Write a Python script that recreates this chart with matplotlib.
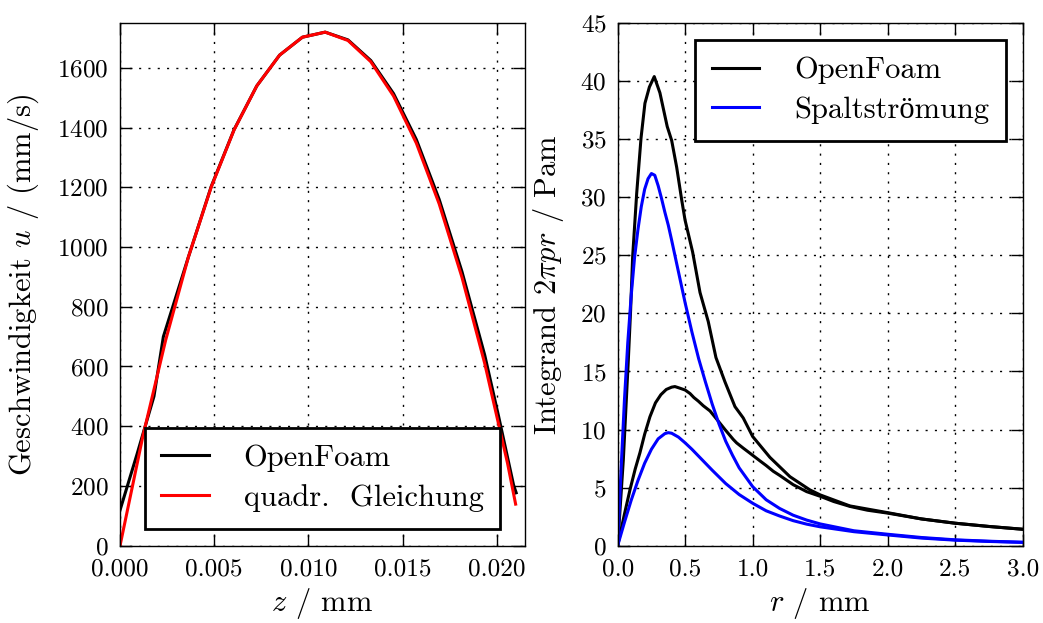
import matplotlib
matplotlib.use("Agg")
import matplotlib.pyplot as plt

plt.rcParams.update({
    "font.family": ["cmr10", "Liberation Serif"],
    "mathtext.fontset": "cm",
    "axes.formatter.use_mathtext": True,
    "axes.unicode_minus": False,
})

# Velocity profile across the gap
z_openfoam = [0.0, 0.0009, 0.0018, 0.0023, 0.00363, 0.00484, 0.00605, 0.00726,
              0.00847, 0.00968, 0.01089, 0.0121, 0.01331, 0.01452, 0.01573,
              0.01694, 0.01815, 0.01936, 0.0201, 0.02089, 0.02103]
u_openfoam = [119, 306, 500, 700, 967, 1203, 1393, 1540, 1643, 1703, 1720,
              1694, 1625, 1514, 1360, 1160, 918, 638, 432, 203, 177]

z_quadr = [0.0, 0.00121, 0.00242, 0.00363, 0.00484, 0.00605, 0.00726, 0.00847,
           0.00968, 0.01089, 0.0121, 0.01331, 0.01452, 0.01573, 0.01694,
           0.01815, 0.01936, 0.02057, 0.021]
u_quadr = [0, 366, 688, 967, 1201, 1392, 1540, 1643, 1703, 1720, 1692, 1621,
           1506, 1348, 1145, 899, 610, 276, 139]

# Integrand over the radius (OpenFoam, two cases)
r_of_hi = [0.0, 0.042, 0.079, 0.096, 0.111, 0.141, 0.173, 0.202, 0.235, 0.271,
           0.313, 0.367, 0.4, 0.437, 0.474, 0.499, 0.555, 0.61, 0.671, 0.728,
           0.795, 0.869, 0.93, 1.0, 1.128, 1.276, 1.424, 1.5, 1.72, 2.0, 2.25,
           2.5, 2.75, 3.0]
v_of_hi = [0.0, 7.4, 16.0, 20.3, 24.9, 30.35, 35.1, 38.1, 39.5, 40.4, 39.0,
           36.1, 34.9, 32.6, 29.8, 28.05, 25.3, 21.8, 19.3, 16.2, 14.1, 11.97,
           11.0, 9.4, 7.6, 5.94, 4.8, 4.37, 3.42, 2.84, 2.3, 1.93, 1.65, 1.41]

r_of_lo = [0.0, 0.05, 0.091, 0.13, 0.165, 0.2, 0.239, 0.28, 0.32, 0.36, 0.4,
           0.424, 0.461, 0.5, 0.536, 0.565, 0.597, 0.634, 0.684, 0.733, 0.795,
           0.856, 0.881, 0.93, 0.98, 1.054, 1.1, 1.153, 1.2, 1.3, 1.4, 1.5,
           1.6, 1.72, 1.85, 2.0, 2.25, 2.5, 2.75, 3.0]
v_of_lo = [0.0, 2.7, 4.8, 6.6, 8.0, 9.6, 11.1, 12.3, 13.0, 13.45, 13.65, 13.7,
           13.56, 13.4, 13.1, 12.75, 12.45, 12.05, 11.6, 10.9, 10.0, 9.15, 8.85,
           8.4, 7.96, 7.3, 6.9, 6.4, 6.05, 5.25, 4.65, 4.25, 3.8, 3.38, 3.05,
           2.8, 2.3, 1.93, 1.65, 1.41]

# Integrand over the radius (gap-flow model, two cases)
r_sp_hi = [0.0, 0.025, 0.05, 0.075, 0.1, 0.125, 0.15, 0.175, 0.2, 0.225, 0.25,
           0.275, 0.3, 0.325, 0.35, 0.375, 0.4, 0.45, 0.5, 0.55, 0.6, 0.65,
           0.7, 0.75, 0.8, 0.85, 0.9, 1.0, 1.1, 1.2, 1.3, 1.4, 1.5, 1.75, 2.0,
           2.25, 2.5, 2.75, 3.0]
v_sp_hi = [0.0, 6.5, 12.5, 17.5, 21.5, 24.8, 27.2, 29.2, 30.7, 31.6, 32.05,
           31.9, 31.0, 29.9, 28.7, 27.6, 26.3, 23.6, 20.9, 18.4, 16.1, 14.1,
           12.2, 10.5, 9.0, 7.8, 6.7, 5.08, 3.95, 3.2, 2.62, 2.2, 1.87, 1.28,
           0.98, 0.7, 0.5, 0.38, 0.29]

r_sp_lo = [0.0, 0.025, 0.05, 0.1, 0.15, 0.2, 0.25, 0.3, 0.35, 0.375, 0.4, 0.45,
           0.5, 0.55, 0.6, 0.7, 0.8, 0.9, 1.0, 1.1, 1.2, 1.3, 1.4, 1.5, 1.75,
           2.0, 2.25, 2.5, 2.75, 3.0]
v_sp_lo = [0.0, 1.0, 2.0, 3.9, 5.6, 7.1, 8.3, 9.2, 9.65, 9.73, 9.68, 9.35, 8.85,
           8.3, 7.7, 6.5, 5.35, 4.4, 3.65, 3.0, 2.55, 2.15, 1.85, 1.62, 1.2,
           0.92, 0.65, 0.47, 0.36, 0.28]

TICK_FS = 18.2
LABEL_FS = 22
LEGEND_FS = 22
LW = 2.2

fig = plt.figure(figsize=(10.43, 6.23), dpi=100)
ax1 = fig.add_axes([0.1151, 0.1242, 0.3883, 0.8386])
ax2 = fig.add_axes([0.5922, 0.1242, 0.3883, 0.8386])


def style_axes(ax):
    for sp in ax.spines.values():
        sp.set_linewidth(1.0)
    ax.tick_params(direction="in", top=True, right=True, length=8.5, width=1.0,
                   labelsize=TICK_FS)
    ax.tick_params(axis="x", pad=9)
    ax.tick_params(axis="y", pad=8)
    ax.grid(True, color="black", linewidth=1.0, linestyle=(0, (1.5, 5.2)))


def style_legend(leg):
    fr = leg.get_frame()
    fr.set_edgecolor("black")
    fr.set_linewidth(2.0)
    fr.set_alpha(1.0)


legend_kw = dict(fontsize=LEGEND_FS, fancybox=False, framealpha=1.0,
                 borderpad=0.55, labelspacing=0.4, handlelength=1.54,
                 handletextpad=1.15, borderaxespad=0.55)

# Left: velocity profile
ax1.plot(z_openfoam, u_openfoam, color="black", lw=LW, label="OpenFoam")
ax1.plot(z_quadr, u_quadr, color="#ff0000", lw=LW, label="quadr.  Gleichung")
ax1.set_xlim(0, 0.0215)
ax1.set_ylim(0, 1750)
ax1.set_xticks([0.0, 0.005, 0.010, 0.015, 0.020])
ax1.set_xticklabels(["0.000", "0.005", "0.010", "0.015", "0.020"])
ax1.set_yticks(range(0, 1601, 200))
ax1.set_xlabel("$z$ / mm", fontsize=LABEL_FS, labelpad=4)
ax1.set_ylabel("Geschwindigkeit $u$ / (mm/s)", fontsize=LABEL_FS, labelpad=12)
style_axes(ax1)
leg1 = ax1.legend(loc="lower center", **legend_kw)
style_legend(leg1)

# Right: integrand
ax2.plot(r_of_hi, v_of_hi, color="black", lw=LW, label="OpenFoam")
ax2.plot(r_of_lo, v_of_lo, color="black", lw=LW)
ax2.plot(r_sp_hi, v_sp_hi, color="#0000ff", lw=LW, label="Spaltströmung")
ax2.plot(r_sp_lo, v_sp_lo, color="#0000ff", lw=LW)
ax2.set_xlim(0, 3.0)
ax2.set_ylim(0, 45)
ax2.set_xticks([0.0, 0.5, 1.0, 1.5, 2.0, 2.5, 3.0])
ax2.set_xticklabels(["0.0", "0.5", "1.0", "1.5", "2.0", "2.5", "3.0"])
ax2.set_yticks(range(0, 46, 5))
ax2.set_xlabel("$r$ / mm", fontsize=LABEL_FS, labelpad=4)
ax2.set_ylabel("Integrand $2\\pi pr$ / Pam", fontsize=LABEL_FS, labelpad=10)
style_axes(ax2)
leg2 = ax2.legend(loc="upper right", **legend_kw)
style_legend(leg2)

fig.savefig("out.png", dpi=100)
